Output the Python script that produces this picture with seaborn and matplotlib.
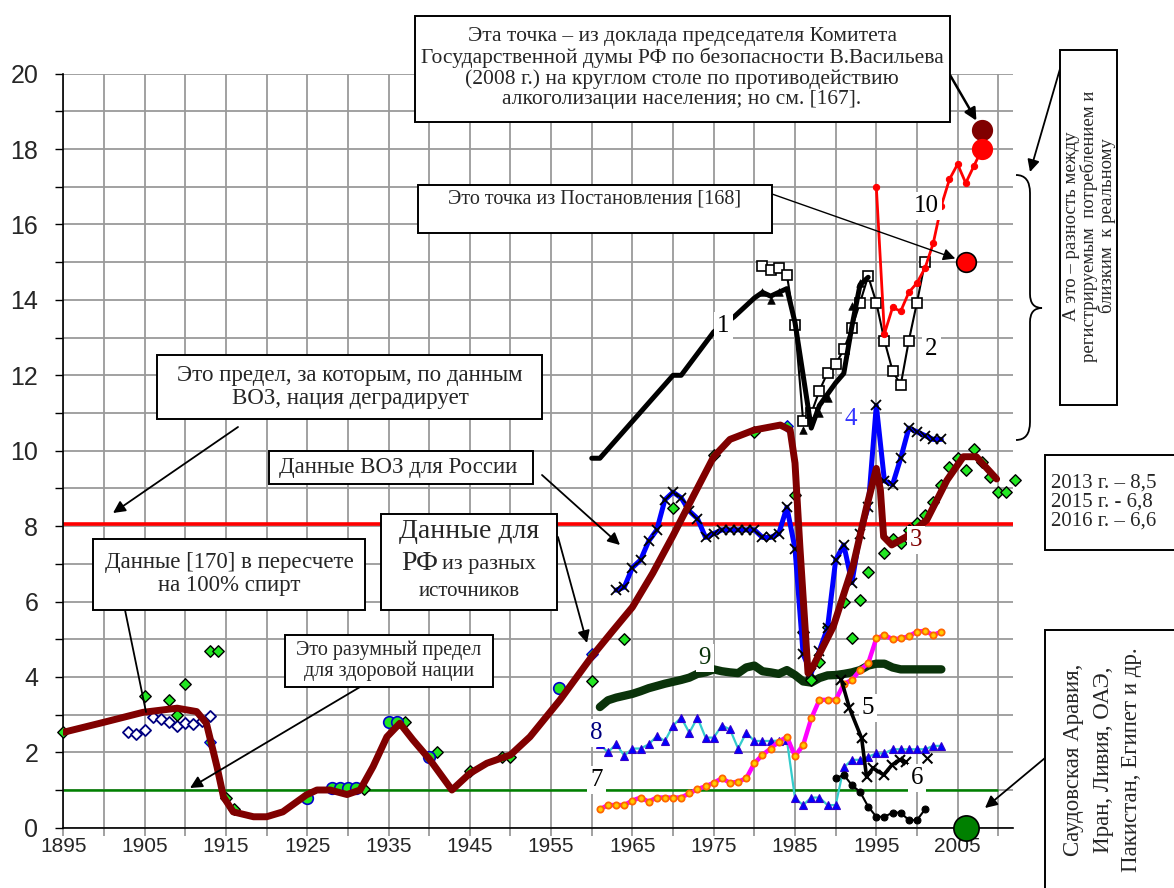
import matplotlib
matplotlib.use("Agg")
import matplotlib.pyplot as plt
import seaborn as sns
from matplotlib.patches import Rectangle, PathPatch
from matplotlib.path import Path

W, H = 1174, 888

# ---------------- данные ----------------
# 3 – сглаженный тренд
trend_years = [1895, 1899.5, 1904.8, 1909, 1911.4, 1912.6, 1913.9, 1914.7, 1915.9, 1918.4,
               1920, 1922, 1924.9, 1926.2, 1927.8, 1929.9, 1931.5, 1933.1, 1934.8, 1936.4,
               1938, 1940.1, 1942.8, 1945, 1947.1, 1950, 1952.4, 1956.1, 1960, 1962.5,
               1965, 1967.5, 1970, 1972.5, 1975, 1977, 1980, 1983.2, 1984.4, 1985,
               1985.6, 1986.6, 1987.2, 1989.7, 1992.2, 1993.8, 1995, 1995.5, 1995.9, 1996.9,
               1998.7, 2001.2, 2003.7, 2005.7, 2007.3, 2009.8]
trend_vals = [2.53, 2.77, 3.06, 3.17, 3.08, 2.77, 1.62, 0.82, 0.42, 0.29,
              0.29, 0.42, 0.87, 1.0, 1.0, 0.88, 1.0, 1.62, 2.41, 2.77,
              2.33, 1.8, 1.0, 1.44, 1.71, 1.93, 2.41, 3.39, 4.54, 5.2,
              5.85, 6.75, 7.75, 8.8, 9.84, 10.3, 10.55, 10.68, 10.55, 9.67,
              7.45, 4.1, 4.27, 5.33, 7.0, 8.5, 9.53, 8.96, 7.72, 7.5,
              7.72, 8.16, 9.22, 9.84, 9.84, 9.25]

# 4 – данные ВОЗ
who_years = list(range(1963, 2004))
who_vals = [6.3, 6.38, 6.9, 7.1, 7.6, 7.9, 8.7, 8.9, 8.75, 8.4,
            8.2, 7.7, 7.8, 7.9, 7.9, 7.9, 7.9, 7.9, 7.7, 7.7,
            7.8, 8.5, 7.4, 4.6, 4.1, 4.7, 5.3, 7.1, 7.5, 6.5,
            7.8, 8.5, 11.2, 9.2, 9.1, 9.8, 10.6, 10.5, 10.4, 10.3, 10.3]

# 1 – толстая черная
s1_years = [1960, 1961, 1970, 1971, 1975, 1977.5, 1980, 1981, 1982, 1983, 1984, 1985,
            1987, 1988, 1989, 1990, 1991, 1992, 1993, 1994]
s1_vals = [9.8, 9.8, 12.0, 12.0, 13.15, 13.55, 14.05, 14.2, 14.1, 14.2, 14.3, 13.4,
           10.6, 11.2, 11.5, 11.8, 12.05, 13.3, 14.4, 14.6]
s1_tri_years = [1981, 1982, 1983, 1986, 1988, 1989, 1992, 1993]
s1_tri_vals = [14.2, 14.0, 14.2, 10.55, 11.0, 11.4, 13.85, 14.45]

# 2 – квадраты
s2_years = list(range(1981, 2002))
s2_vals = [14.9, 14.78, 14.85, 14.66, 13.33, 10.79, 10.99, 11.59, 12.07, 12.29,
           12.69, 13.25, 13.93, 14.63, 13.93, 12.92, 12.12, 11.74, 12.92, 13.93, 15.01]

# 10 – красная
s10_years = list(range(1995, 2009))
s10_vals = [17.0, 13.1, 13.8, 13.7, 14.2, 14.45, 14.85, 15.5, 16.5, 17.2,
            17.6, 17.1, 17.55, 18.0]

# 5, 6
s5_years = [1990.7, 1991.7, 1993.2, 1993.8, 1994.6, 1995.9, 1996.9, 1997.9, 1998.6]
s5_vals = [3.92, 3.17, 2.37, 1.35, 1.58, 1.4, 1.66, 1.8, 1.75]
s5_extra_year = [2001.2]
s5_extra_val = [1.84]
s6_years = list(range(1990, 2002))
s6_vals = [1.31, 1.4, 1.13, 0.95, 0.56, 0.29, 0.29, 0.4, 0.4, 0.2, 0.2, 0.49]

# 7 – розовая
s7_years = list(range(1961, 2004))
s7_vals = [0.49, 0.6, 0.6, 0.6, 0.72, 0.8, 0.69, 0.8, 0.8, 0.8,
           0.8, 0.91, 1.02, 1.1, 1.19, 1.31, 1.19, 1.22, 1.31, 1.71,
           1.93, 2.1, 2.28, 2.41, 1.9, 2.19, 2.9, 3.39, 3.39, 3.39,
           3.81, 3.92, 4.18, 4.36, 5.02, 5.11, 5.0, 5.02, 5.08, 5.2,
           5.22, 5.11, 5.2]

# 8 – бирюзовая
s8_years = list(range(1961, 2004))
s8_vals = [2.21, 2.0, 2.22, 1.91, 2.1, 2.1, 2.21, 2.43, 2.3, 2.71,
           2.92, 2.52, 2.92, 2.39, 2.39, 2.71, 2.61, 2.1, 2.52, 2.3,
           2.3, 2.3, 2.31, 2.33, 0.78, 0.6, 0.8, 0.8, 0.6, 0.6,
           1.6, 1.8, 1.8, 1.88, 1.97, 1.97, 2.08, 2.08, 2.08, 2.08,
           2.08, 2.17, 2.17]

# 9 – темно-зеленая
s9_years = list(range(1961, 2004))
s9_vals = [3.2, 3.38, 3.45, 3.5, 3.55, 3.62, 3.7, 3.76, 3.82, 3.87,
           3.92, 3.98, 4.08, 4.12, 4.2, 4.15, 4.12, 4.1, 4.25, 4.3,
           4.15, 4.12, 4.08, 4.18, 4.05, 3.88, 3.85, 3.97, 4.04, 4.05,
           4.08, 4.12, 4.18, 4.3, 4.35, 4.35, 4.25, 4.2, 4.2, 4.2,
           4.2, 4.2, 4.2]

# данные для РФ из разных источников (ромбы)
rf_years = [1895, 1905, 1908, 1909, 1910, 1913, 1914, 1915, 1916, 1932, 1937, 1941,
            1945, 1949, 1950, 1960, 1964, 1970, 1975, 1980, 1985, 1986, 1987, 1988,
            1989, 1991, 1992, 1993, 1994, 1996, 1997, 1998, 1999, 2000, 2001, 2002,
            2003, 2004, 2005, 2006, 2007, 2008, 2009, 2010, 2011, 2012]
rf_vals = [2.53, 3.5, 3.4, 3.0, 3.8, 4.7, 4.7, 0.8, 0.5, 1.02, 2.8, 2.0,
           1.51, 1.87, 1.88, 3.9, 5.0, 8.47, 9.89, 10.5, 8.83, 5.2, 3.92, 4.4,
           5.33, 6.0, 5.02, 6.04, 6.77, 7.29, 7.65, 7.54, 7.9, 8.07, 8.3, 8.63,
           9.09, 9.56, 9.8, 9.5, 10.04, 9.71, 9.31, 8.91, 8.91, 9.22]
rf_blue_years = [1913, 1960, 1984]
rf_blue_vals = [2.27, 4.6, 10.66]
circ_years = [1925, 1928, 1929, 1930, 1931, 1935, 1936, 1940, 1956]
circ_vals = [0.8, 1.06, 1.06, 1.06, 1.06, 2.8, 2.8, 1.88, 3.71]

# данные [170]
d170_years = list(range(1903, 1914))
d170_vals = [2.53, 2.48, 2.59, 2.94, 2.88, 2.8, 2.71, 2.77, 2.74, 2.83, 2.97]

# отдельные точки
duma_point = (2008, 18.5)
red_point = (2008, 18.0)
decree_point = (2006, 15.0)
muslim_point = (2006, 0.0)

who_limit = 8.05
healthy_limit = 1.0

# ---------------- оформление ----------------
sns.set_theme(style="white")
plt.rcParams['font.family'] = ['Liberation Sans', 'DejaVu Sans']
SERIF = ['Liberation Serif', 'DejaVu Serif']

fig = plt.figure(figsize=(W / 100, H / 100), dpi=100)
ax = fig.add_axes([63.3 / W, 1 - 827.7 / H, (1013.3 - 63.3) / W, (827.7 - 73.7) / H])

ax.set_xlim(1895, 2011.85)
ax.set_ylim(0, 20)
ax.set_xticks(range(1895, 2010, 10))
ax.set_xticks(range(1900, 2011, 10), minor=True)
ax.set_yticks(range(0, 21, 2))
ax.set_yticks(range(1, 20, 2), minor=True)
ax.grid(True, which='both', color='#9a9a9a', lw=1.3)
ax.set_axisbelow(True)
for s in ['top', 'right']:
    ax.spines[s].set_visible(False)
for s in ['left', 'bottom']:
    ax.spines[s].set_color('black')
    ax.spines[s].set_linewidth(1.2)
ax.tick_params(axis='x', which='both', direction='out', length=6, color='#9a9a9a',
               width=1.3, labelsize=15, pad=1, bottom=True)
ax.tick_params(axis='y', which='both', direction='out', length=6, color='black',
               width=1.0, labelsize=18, pad=12, left=True)
ax.set_xlabel('')
ax.set_ylabel('')

# пороговые линии
ax.hlines(who_limit, 1895, 2011.85, color='red', lw=2.6, zorder=2)
ax.hlines(healthy_limit, 1895, 2010, color='green', lw=1.8, zorder=2)

# серии
sns.lineplot(x=s8_years, y=s8_vals, ax=ax, color='#33cccc', lw=1.6, marker='^',
             markersize=5.5, markerfacecolor='#0000ff', markeredgecolor='#3300cc',
             markeredgewidth=0.8, zorder=3)
sns.lineplot(x=s9_years, y=s9_vals, ax=ax, color='#0a330a', lw=6, zorder=3)
sns.lineplot(x=s7_years, y=s7_vals, ax=ax, color='#ff00ff', lw=3.2, marker='o',
             markersize=4.5, markerfacecolor='#ffcc00', markeredgecolor='#ff6600',
             markeredgewidth=1.3, zorder=4)
sns.lineplot(x=s6_years, y=s6_vals, ax=ax, color='black', lw=1.5, marker='o',
             markersize=5, markerfacecolor='black', markeredgecolor='black', zorder=4)
sns.lineplot(x=s5_years, y=s5_vals, ax=ax, color='black', lw=2.6, marker='x',
             markersize=7, markeredgecolor='black', markeredgewidth=1.5, zorder=4)
sns.scatterplot(x=s5_extra_year, y=s5_extra_val, ax=ax, marker='x', s=50,
                color='black', linewidth=1.5, zorder=4)
sns.lineplot(x=s2_years, y=s2_vals, ax=ax, color='black', lw=1.5, marker='s',
             markersize=6.5, markerfacecolor='white', markeredgecolor='black',
             markeredgewidth=1.2, zorder=4)
sns.lineplot(x=s1_years, y=s1_vals, ax=ax, color='black', lw=3.6, zorder=5)
sns.scatterplot(x=s1_tri_years, y=s1_tri_vals, ax=ax, marker='^', s=30,
                color='black', edgecolor='black', zorder=5)
sns.lineplot(x=s10_years, y=s10_vals, ax=ax, color='red', lw=2, marker='o',
             markersize=4.5, markerfacecolor='red', markeredgecolor='red', zorder=5)

sns.scatterplot(x=d170_years, y=d170_vals, ax=ax, marker='D', s=32, color='white',
                edgecolor='#000080', linewidth=1.3, zorder=5)
sns.scatterplot(x=rf_years, y=rf_vals, ax=ax, marker='D', s=34, color='#22e622',
                edgecolor='black', linewidth=1.0, zorder=6, clip_on=False)
sns.scatterplot(x=rf_blue_years, y=rf_blue_vals, ax=ax, marker='D', s=34,
                color='#22e622', edgecolor='#0000cc', linewidth=1.0, zorder=6)
sns.scatterplot(x=circ_years, y=circ_vals, ax=ax, marker='o', s=70, color='#22e622',
                edgecolor='#0000cc', linewidth=1.2, zorder=6)

sns.lineplot(x=who_years, y=who_vals, ax=ax, color='#0000ff', lw=3.6, marker='x',
             markersize=7, markeredgecolor='black', markeredgewidth=1.3, zorder=7)
sns.lineplot(x=trend_years, y=trend_vals, ax=ax, color='#800000', lw=5, zorder=8)

sns.scatterplot(x=[duma_point[0]], y=[duma_point[1]], ax=ax, s=200, color='#800000',
                edgecolor='#800000', zorder=9)
sns.scatterplot(x=[red_point[0]], y=[red_point[1]], ax=ax, s=200, color='red',
                edgecolor='red', zorder=9)
sns.scatterplot(x=[decree_point[0]], y=[decree_point[1]], ax=ax, s=200, color='red',
                edgecolor='black', linewidth=1.2, zorder=9)
sns.scatterplot(x=[muslim_point[0]], y=[muslim_point[1]], ax=ax, s=330, color='green',
                edgecolor='black', linewidth=1.2, zorder=9, clip_on=False)

# номера кривых
curve_labels = [('1', 1976.2, 13.3, 'black'), ('2', 2001.8, 12.7, 'black'),
                ('10', 2001.2, 16.5, 'black'), ('4', 1991.9, 10.83, '#3333ff'),
                ('3', 1999.9, 7.63, '#800000'), ('5', 1994.0, 3.17, 'black'),
                ('6', 2000.0, 1.31, 'black'), ('7', 1960.6, 1.27, 'black'),
                ('8', 1960.6, 2.52, '#000080'), ('9', 1973.9, 4.49, '#0a330a')]
for t, xx, yy, c in curve_labels:
    ax.text(xx, yy, t, color=c, fontsize=18, family=SERIF, ha='center', va='center',
            zorder=10, bbox=dict(boxstyle='square,pad=0.12', fc='white', ec='none'))


# ---------------- выноски ----------------
def fx(x):
    return x / W


def fy(y):
    return 1 - y / H


def box(x0, y0, x1, y1):
    fig.add_artist(Rectangle((fx(x0), fy(y1)), (x1 - x0) / W, (y1 - y0) / H,
                             transform=fig.transFigure, fc='white', ec='black',
                             lw=1.4, zorder=20))


def txt(x, y, s, size, **kw):
    kw.setdefault('ha', 'center')
    kw.setdefault('va', 'center')
    fig.text(fx(x), fy(y), s, fontsize=size, family=SERIF, zorder=21, **kw)


def arrow(x0, y0, x1, y1, style='-|>', lw=1.3, head=18):
    ax.annotate('', xy=(x1, H - y1), xytext=(x0, H - y0), xycoords='figure pixels',
                textcoords='figure pixels', annotation_clip=False, zorder=19,
                arrowprops=dict(arrowstyle=style, color='black', lw=lw,
                                mutation_scale=head, shrinkA=0, shrinkB=0))


def arrow_to(x0, y0, pt, lw=1.3, shrink=8):
    ax.annotate('', xy=pt, xycoords='data', xytext=(x0, H - y0),
                textcoords='figure pixels', annotation_clip=False, zorder=19,
                arrowprops=dict(arrowstyle='-|>', color='black', lw=lw,
                                mutation_scale=18, shrinkA=0, shrinkB=shrink))


box(415, 16, 950, 122)
txt(682, 68, 'Эта точка – из доклада председателя Комитета\n'
             'Государственной думы РФ по безопасности В.Васильева\n'
             '(2008 г.) на круглом столе по противодействию\n'
             'алкоголизации населения; но см. [167].', 15.5, linespacing=1.1)
arrow_to(950, 75, duma_point, lw=1.8)

box(418, 185, 772, 233)
txt(595, 199, 'Это точка из Постановления [168]', 14.5)
arrow_to(772, 194, decree_point, lw=1.0)

box(157, 355, 542, 419)
txt(350, 387, 'Это предел, за которым, по данным\nВОЗ, нация деградирует', 16.5,
    linespacing=1.15)
arrow(238, 427, 113, 513)

box(269, 451, 533, 484)
txt(398, 468, 'Данные ВОЗ для России', 16.5)
arrow(542, 475, 620, 545)

box(93, 539, 365, 610)
txt(229, 574, 'Данные [170] в пересчете\nна 100% спирт', 16.5, linespacing=1.15)
arrow(125, 610, 146, 712, style='-')

box(381, 514, 557, 610)
txt(469, 532, 'Данные для', 20)
txt(420, 563, 'РФ', 20)
txt(489, 565, 'из разных', 16)
txt(469, 591, 'источников', 15)
arrow(558, 537, 587, 643)

box(285, 635, 493, 687)
txt(389, 661, 'Это разумный предел\nдля здоровой нации', 14.5, linespacing=1.1)
arrow(360, 687, 190, 788)

box(1060, 50, 1117, 405)
txt(1089, 226, 'А это – разность между\nрегистрируемым  потреблением и\nблизким  к реальному',
    13.5, rotation=90, linespacing=1.0)
arrow(1062, 62, 1030, 172)

box(1045, 455, 1180, 550)
txt(1051, 502, '2013 г. – 8,5\n2015 г. - 6,8\n2016 г. – 6,6', 15, ha='left',
    linespacing=1.0)

box(1045, 630, 1180, 900)
txt(1103, 760, 'Саудовская Аравия,\nИран, Ливия, ОАЭ,\nПакистан, Египет и др.', 16.5,
    rotation=90, linespacing=1.5)
arrow(1045, 758, 985, 808)

# фигурная скобка
bx0, bx1, bxm = 1016, 1042, 1030
by0, by1, bym = 175, 440, 308
verts = [(bx0, by0), (bxm, by0), (bxm, by0 + 18), (bxm, bym - 14),
         (bxm, bym), (bx1, bym), (bxm, bym), (bxm, bym + 14),
         (bxm, by1 - 18), (bxm, by1), (bx0, by1)]
codes = [Path.MOVETO, Path.CURVE3, Path.CURVE3, Path.LINETO,
         Path.CURVE3, Path.CURVE3, Path.CURVE3, Path.CURVE3,
         Path.LINETO, Path.CURVE3, Path.CURVE3]
brace = Path([(fx(a), fy(b)) for a, b in verts], codes)
fig.add_artist(PathPatch(brace, transform=fig.transFigure, fc='none', ec='black',
                         lw=1.3, zorder=20))

fig.savefig('out.png', dpi=100)
